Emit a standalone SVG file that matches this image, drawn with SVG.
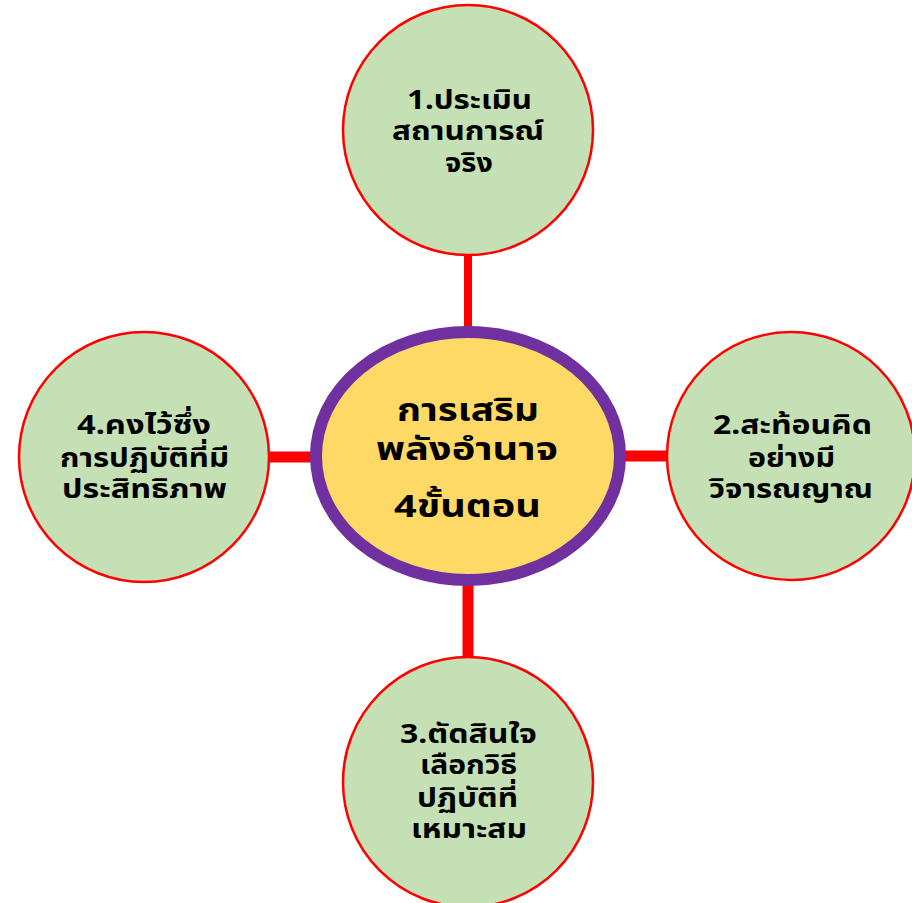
<svg xmlns="http://www.w3.org/2000/svg" width="912" height="903" viewBox="0 0 912 903">
<style>
.leaf{fill:#C5E0B4;stroke:#FF0000;stroke-width:2.5}
.hub{fill:#FFD966;stroke:#7030A0;stroke-width:12}
.conn{stroke:#FF0000;fill:none}
text{font-family:"Noto Sans","Noto Sans Thai",sans-serif;font-weight:bold;fill:#000}
.t{font-size:27px}
.c{font-size:31px}
</style>
<rect width="912" height="903" fill="#FFFFFF"/>
<g id="connectors">
<line class="conn" x1="468" y1="254" x2="468" y2="332" stroke-width="8"/>
<line class="conn" x1="468" y1="582" x2="468" y2="658" stroke-width="11"/>
<line class="conn" x1="268" y1="457" x2="318" y2="457" stroke-width="11"/>
<line class="conn" x1="620" y1="456" x2="668" y2="456" stroke-width="11"/>
</g>
<g id="hub">
<ellipse class="hub" cx="468" cy="456" rx="152" ry="124"/>
<text class="c" x="397" y="421" textLength="142" lengthAdjust="spacingAndGlyphs">การเสริม</text>
<text class="c" x="376" y="460" textLength="182" lengthAdjust="spacingAndGlyphs">พลังอำนาจ</text>
<text class="c" x="394" y="517" textLength="147" lengthAdjust="spacingAndGlyphs">4ขั้นตอน</text>
</g>
<g id="node1">
<circle class="leaf" cx="468" cy="130" r="125"/>
<text class="t" x="407" y="109" textLength="125" lengthAdjust="spacingAndGlyphs">1.ประเมิน</text>
<text class="t" x="392" y="140" textLength="152" lengthAdjust="spacingAndGlyphs">สถานการณ์</text>
<text class="t" x="445" y="172" textLength="48" lengthAdjust="spacingAndGlyphs">จริง</text>
</g>
<g id="node2">
<circle class="leaf" cx="791" cy="456" r="124"/>
<text class="t" x="713" y="434" textLength="159" lengthAdjust="spacingAndGlyphs">2.สะท้อนคิด</text>
<text class="t" x="748" y="467" textLength="87" lengthAdjust="spacingAndGlyphs">อย่างมี</text>
<text class="t" x="709" y="498" textLength="164" lengthAdjust="spacingAndGlyphs">วิจารณญาณ</text>
</g>
<g id="node3">
<circle class="leaf" cx="468" cy="782" r="125"/>
<text class="t" x="400" y="743" textLength="137" lengthAdjust="spacingAndGlyphs">3.ตัดสินใจ</text>
<text class="t" x="420" y="774" textLength="97" lengthAdjust="spacingAndGlyphs">เลือกวิธี</text>
<text class="t" x="417" y="807" textLength="101" lengthAdjust="spacingAndGlyphs">ปฏิบัติที่</text>
<text class="t" x="411" y="838" textLength="116" lengthAdjust="spacingAndGlyphs">เหมาะสม</text>
</g>
<g id="node4">
<circle class="leaf" cx="144" cy="457" r="125"/>
<text class="t" x="77" y="434" textLength="134" lengthAdjust="spacingAndGlyphs">4.คงไว้ซึ่ง</text>
<text class="t" x="60" y="467" textLength="169" lengthAdjust="spacingAndGlyphs">การปฏิบัติที่มี</text>
<text class="t" x="62" y="498" textLength="165" lengthAdjust="spacingAndGlyphs">ประสิทธิภาพ</text>
</g>
</svg>
